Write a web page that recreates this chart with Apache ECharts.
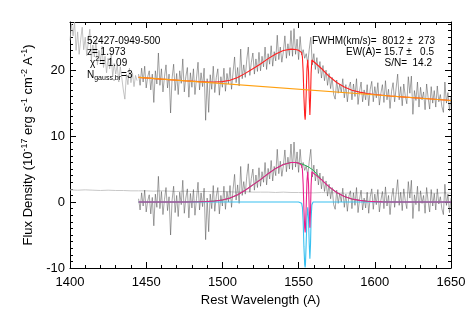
<!DOCTYPE html>
<html><head><meta charset="utf-8">
<script src="https://cdn.jsdelivr.net/npm/echarts/dist/echarts.min.js"></script>
<style>html,body{margin:0;padding:0;background:#fff}#c{width:472px;height:315px}</style>
</head><body><div id="c"></div><script>
// ---- data ----
const maskedStart = 1400; // light-gray part of spectrum, 1 A steps
const fluxMasked = [24.5,27.0,25.2,27.3,23.0,25.8,22.4,24.6,26.5,23.1,
25.0,22.2,24.3,26.2,21.5,23.8,22.0,24.5,20.8,23.0,
21.2,23.6,20.4,22.1,19.6,21.8,20.2,22.5,19.0,21.0,
19.4,20.8,18.2,20.5,18.8,17.0,15.6,19.4,17.8,20.3,
18.1,19.6,17.5,19.2,18.4];
const fitStart = 1445; // fitted part of spectrum, 1 A steps
const flux = [19.4,17.7,20.3,18.2,20.6,17.3,19.0,19.9,17.0,19.4,
15.1,19.9,17.9,22.6,17.7,20.2,16.7,19.0,20.8,17.3,
19.4,13.5,18.8,20.9,16.9,19.5,16.3,19.9,18.0,21.7,
16.7,19.0,20.4,15.9,19.6,17.4,20.2,16.3,18.8,21.2,
17.0,19.6,17.5,20.3,12.4,18.7,13.6,19.3,17.1,20.6,
16.6,18.9,20.2,16.2,19.0,17.4,20.3,16.8,19.5,17.9,
20.4,17.1,19.7,22.0,18.1,20.4,17.6,23.2,18.7,20.8,
18.9,21.6,23.5,19.2,21.2,22.6,19.4,21.7,19.8,22.7,
19.9,22.1,20.5,23.5,20.1,22.5,20.9,23.7,20.6,22.8,
21.4,25.3,21.6,23.5,21.2,22.8,25.2,21.8,24.0,22.2,
26.0,22.1,26.3,22.4,24.7,21.6,25.1,22.3,23.1,21.8,
22.5,21.0,23.2,25.0,20.8,22.5,20.1,21.9,19.5,21.3,
18.8,20.7,18.4,20.0,17.7,19.5,17.2,18.9,16.3,15.6,
18.5,16.5,17.9,16.6,18.7,15.8,17.8,15.2,17.4,18.2,
15.5,17.9,16.0,18.7,14.8,16.8,18.2,15.2,17.0,15.5,
17.8,14.6,17.1,18.3,15.2,17.5,15.8,18.1,14.7,16.5,
17.8,15.1,18.4,15.5,17.1,14.2,16.8,18.1,15.2,17.3,
19.4,15.5,17.5,14.6,17.9,16.1,14.9,19.0,16.5,19.1,
13.3,16.9,15.4,18.2,14.4,17.4,15.5,16.7,14.0,17.9,
15.8,14.1,17.5,15.0,16.9,14.4,17.6,15.2,16.3,14.5,
13.6,18.2,15.0,16.6,13.8,16.0];
const resid = [0.5,-1.2,1.4,-0.6,1.8,-1.5,0.2,1.1,-1.8,0.7,
-3.6,1.2,-0.8,3.9,-1.0,1.6,-1.9,0.4,2.2,-1.3,
0.8,-5.0,0.3,2.4,-1.6,1.0,-2.2,1.5,-0.4,3.3,
-1.7,0.6,2.0,-2.4,1.3,-0.9,1.9,-2.0,0.5,3.0,
-1.2,1.4,-0.7,2.1,-5.7,0.6,-4.5,1.2,-1.0,2.5,
-1.4,0.9,2.2,-1.8,1.0,-0.6,2.4,-1.1,1.6,0.0,
2.5,-0.8,1.9,4.2,0.3,2.6,-0.2,5.4,1.0,3.1,
1.2,3.9,5.8,1.5,3.6,5.0,1.8,4.1,2.2,5.2,
2.4,4.6,3.0,6.0,2.6,5.1,3.5,6.3,3.2,5.4,
4.0,8.0,4.3,6.2,3.9,5.5,7.9,4.6,6.8,5.0,
8.8,4.9,9.1,5.3,7.6,4.5,8.0,5.2,6.0,4.8,
5.5,4.0,6.2,8.0,3.8,5.6,3.2,5.0,2.6,4.4,
2.0,3.9,1.6,3.2,0.9,2.7,0.5,2.2,-0.4,-1.1,
1.8,-0.2,1.3,0.0,2.1,-0.8,1.2,-1.4,0.9,1.7,
-1.0,1.4,-0.5,2.2,-1.6,0.4,1.8,-1.2,0.6,-0.9,
1.5,-1.7,0.8,2.0,-1.1,1.2,-0.4,1.9,-1.5,0.3,
1.6,-1.0,2.3,-0.6,1.0,-1.9,0.7,2.1,-0.8,1.3,
3.4,-0.5,1.5,-1.3,2.0,0.2,-1.0,3.1,0.6,3.3,
-2.5,1.1,-0.4,2.4,-1.4,1.7,-0.2,1.0,-1.7,2.2,
0.1,-1.5,1.9,-0.6,1.3,-1.2,2.0,-0.3,0.8,-1.0,
-1.9,2.7,-0.5,1.2,-1.6,0.6];
const errWl = [1400,1405,1410,1415,1420,1425,1430,1435,1440,1445,1450,1455,1460,1465,1470,1475,1480,1485,1490,1495,1500,1505,1510,1515,1520,1525,1530,1535,1540,1545,1550,1555,1560,1565,1570,1575,1580,1585,1590,1595,1600,1605,1610,1615,1620,1625,1630,1635,1640,1645,1650];
const errVal = [1.85,1.8,1.85,1.8,1.75,1.8,1.75,1.75,1.7,1.7,1.7,1.65,1.7,1.65,1.6,1.65,1.6,1.6,1.6,1.55,1.6,1.55,1.5,1.55,1.5,1.5,1.5,1.45,1.5,1.45,1.45,1.4,1.4,1.45,1.4,1.4,1.35,1.4,1.4,1.35,1.4,1.35,1.4,1.35,1.4,1.4,1.35,1.4,1.35,1.4,1.35];
const contWl = [1445,1650];
const contVal = [18.9,15.4];
const fitWl = [1445,1460,1475,1485,1490,1495,1500,1505,1510,1515,1520,1525,1530,1535,1540,1545,1548,1550,1551,1552,1552.5,1553,1553.5,1554,1554.3,1554.5,1555,1555.5,1556,1556.5,1557,1557.4,1557.8,1558.2,1558.7,1559.5,1560,1565,1570,1575,1580,1585,1590,1595,1600,1605,1610,1620,1635,1650];
const upperFit = [18.90,18.64,18.40,18.26,18.21,18.21,18.26,18.48,18.89,19.51,20.22,20.93,21.75,22.46,22.98,23.19,23.14,23.01,22.94,22.65,22.00,19.76,15.90,13.14,12.50,13.18,16.52,20.25,21.58,19.80,15.72,13.20,15.59,19.52,21.54,21.79,21.69,20.25,19.07,18.13,17.45,16.96,16.67,16.46,16.31,16.20,16.09,15.91,15.66,15.40];
const gaussFit = [0,0,0.01,0.04,0.08,0.16,0.3,0.6,1.1,1.8,2.6,3.4,4.3,5.1,5.7,6.0,6.0,5.9,5.85,5.78,5.74,5.70,5.65,5.6,5.57,5.55,5.5,5.44,5.38,5.31,5.24,5.18,5.12,5.06,4.98,4.85,4.75,3.4,2.3,1.45,0.85,0.45,0.25,0.12,0.06,0.03,0.01,0,0,0];
const lowerFit = [0,0,0.01,0.04,0.08,0.16,0.3,0.6,1.1,1.8,2.6,3.4,4.3,5.1,5.7,6.0,6.0,5.9,5.85,5.58,4.94,2.70,-1.15,-3.9,-4.6,-3.85,-0.5,3.24,4.58,2.81,-1.26,-3.9,-1.38,2.56,4.58,4.85,4.75,3.4,2.3,1.45,0.85,0.45,0.25,0.12,0.06,0.03,0.01,0,0,0];
const absFit = [0,0,0,0,0,0,0,0,0,0,0,0,0,0,0,0,0,0,0,-0.2,-0.8,-3.0,-6.8,-9.5,-9.9,-9.4,-6.0,-2.2,-0.8,-2.5,-6.5,-8.6,-6.5,-2.5,-0.4,0,0,0,0,0,0,0,0,0,0,0,0,0,0,0];
const xTicks = {min:1400, max:1650, step:50};
const yTicks = {min:-10, max:27.3, step:10};

// ---- build ----
const pairs = (xs, ys) => ys.map((v,i)=>[xs[i], v]);
const steps = (start, ys) => ys.map((v,i)=>[start+i, v]);
const FONT = 'Liberation Sans, Arial, Helvetica, sans-serif';
const plain = v => String(v);

const chart = echarts.init(document.getElementById('c'), null, {renderer:'canvas'});
const axisCommon = {
  type:'value', splitLine:{show:false},
  axisLine:{show:true, onZero:false, lineStyle:{color:'#000', width:1}},
  axisTick:{show:true, inside:true, length:6, lineStyle:{color:'#000'}},
};
const lineS = (data, color, width, z) => ({type:'line', data, showSymbol:false, symbol:'none',
  lineStyle:{color, width}, itemStyle:{color}, z, animation:false, clip:true});

chart.setOption({
  animation:false,
  backgroundColor:'#fff',
  grid:{left:70, right:21, top:22, bottom:47},
  xAxis:[
    Object.assign({}, axisCommon, {position:'bottom', min:xTicks.min, max:xTicks.max, interval:xTicks.step,
      minorTick:{show:true, splitNumber:5, length:3, lineStyle:{color:'#000'}},
      axisLabel:{color:'#000', fontSize:13, fontFamily:FONT, margin:8, formatter:plain},
      name:'Rest Wavelength (A)', nameLocation:'middle', nameGap:23,
      nameTextStyle:{color:'#000', fontSize:13, fontFamily:FONT}}),
    Object.assign({}, axisCommon, {position:'top', min:xTicks.min, max:xTicks.max, interval:xTicks.step,
      minorTick:{show:true, splitNumber:5, length:3, lineStyle:{color:'#000'}},
      axisLabel:{show:false}})
  ],
  yAxis:[
    Object.assign({}, axisCommon, {position:'left', min:yTicks.min, max:yTicks.max, interval:yTicks.step,
      minorTick:{show:true, splitNumber:10, length:3, lineStyle:{color:'#000'}},
      axisLabel:{color:'#000', fontSize:13, fontFamily:FONT, margin:5, showMaxLabel:false, formatter:plain},
      name:'{a|Flux Density (10}{s|-17}{a| erg s}{s|-1}{a| cm}{s|-2}{a| A}{s|-1}{a|)}',
      nameLocation:'middle', nameGap:30, nameRotate:90,
      nameTextStyle:{color:'#000', fontFamily:FONT, rich:{
        a:{fontSize:13, fontFamily:FONT, color:'#000', lineHeight:18},
        s:{fontSize:9, fontFamily:FONT, color:'#000', lineHeight:9, verticalAlign:'top'}}}}),
    Object.assign({}, axisCommon, {position:'right', min:yTicks.min, max:yTicks.max, interval:yTicks.step,
      minorTick:{show:true, splitNumber:10, length:3, lineStyle:{color:'#000'}},
      axisLabel:{show:false}})
  ],
  series:[
    lineS(pairs(errWl, errVal), '#c8c8c8', 1, 1),
    lineS(steps(maskedStart, fluxMasked), '#ababab', 0.7, 2),
    lineS(steps(fitStart, flux), '#4a4a4a', 0.5, 3),
    lineS(steps(fitStart, resid), '#4a4a4a', 0.5, 3),
    lineS(pairs(fitWl, upperFit), '#ff2020', 1.1, 4),
    lineS(pairs(contWl, contVal), '#ffa010', 1.1, 5),
    lineS(pairs(fitWl, gaussFit), '#20b050', 1.0, 4),
    lineS(pairs(fitWl, absFit), '#38c0f0', 1.1, 5),
    lineS(pairs(fitWl, lowerFit), '#e8208c', 1.1, 6)
  ],
  graphic:[
    {type:'text', x:87, y:41, z:100, style:{text:'52427-0949-500', font:'10px '+FONT, fill:'#000', verticalAlign:'middle'}},
    {type:'text', x:87, y:52, z:100, style:{text:'z= 1.973', font:'10px '+FONT, fill:'#000', verticalAlign:'middle'}},
    {type:'text', x:90, y:63, z:100, style:{text:'{a|χ}{s|2}{a|= 1.09}', fill:'#000', verticalAlign:'middle',
      rich:{a:{fontSize:10, fontFamily:FONT, lineHeight:14}, s:{fontSize:7, fontFamily:FONT, lineHeight:7, verticalAlign:'top'}}}},
    {type:'text', x:87, y:75, z:100, style:{text:'{a|N}{s|gauss,br}{a|=3}', fill:'#000', verticalAlign:'middle',
      rich:{a:{fontSize:10, fontFamily:FONT, lineHeight:14}, s:{fontSize:7, fontFamily:FONT, lineHeight:7, verticalAlign:'bottom'}}}},
    {type:'text', x:435, y:41, z:100, style:{text:'FWHM(km/s)=  8012 \u00b1  273', font:'10px '+FONT, fill:'#000', align:'right', verticalAlign:'middle'}},
    {type:'text', x:434, y:52, z:100, style:{text:'EW(A)= 15.7 \u00b1   0.5', font:'10px '+FONT, fill:'#000', align:'right', verticalAlign:'middle'}},
    {type:'text', x:432, y:63, z:100, style:{text:'S/N=  14.2', font:'10px '+FONT, fill:'#000', align:'right', verticalAlign:'middle'}}
  ]
});
</script></body></html>
